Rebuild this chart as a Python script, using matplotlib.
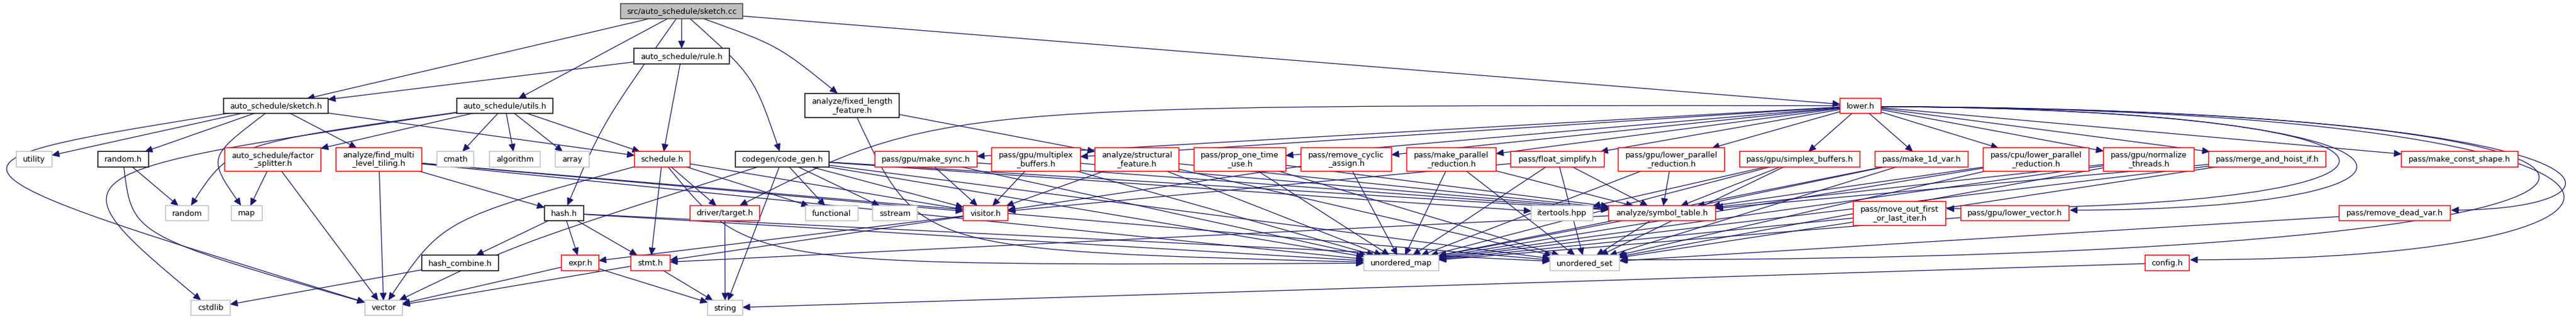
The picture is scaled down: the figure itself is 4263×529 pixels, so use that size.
import matplotlib
matplotlib.use("Agg")
import matplotlib.pyplot as plt
from matplotlib.patches import Rectangle, FancyArrowPatch, ArrowStyle
from matplotlib.path import Path

# include graph of src/auto_schedule/sketch.cc
labels = {
    "sketch_cc": "src/auto_schedule/sketch.cc",
    "rule_h": "auto_schedule/rule.h",
    "sketch_h": "auto_schedule/sketch.h",
    "utils_h": "auto_schedule/utils.h",
    "fixed_len": "analyze/fixed_length\n_feature.h",
    "lower_h": "lower.h",
    "utility": "utility",
    "random_h": "random.h",
    "factor": "auto_schedule/factor\n_splitter.h",
    "find_multi": "analyze/find_multi\n_level_tiling.h",
    "cmath": "cmath",
    "algorithm": "algorithm",
    "array": "array",
    "schedule_h": "schedule.h",
    "code_gen": "codegen/code_gen.h",
    "make_sync": "pass/gpu/make_sync.h",
    "multiplex": "pass/gpu/multiplex\n_buffers.h",
    "structural": "analyze/structural\n_feature.h",
    "prop_one": "pass/prop_one_time\n_use.h",
    "rm_cyclic": "pass/remove_cyclic\n_assign.h",
    "make_par": "pass/make_parallel\n_reduction.h",
    "float_simp": "pass/float_simplify.h",
    "gpu_lower_par": "pass/gpu/lower_parallel\n_reduction.h",
    "simplex": "pass/gpu/simplex_buffers.h",
    "make_1d": "pass/make_1d_var.h",
    "cpu_lower_par": "pass/cpu/lower_parallel\n_reduction.h",
    "normalize": "pass/gpu/normalize\n_threads.h",
    "merge_hoist": "pass/merge_and_hoist_if.h",
    "const_shape": "pass/make_const_shape.h",
    "random": "random",
    "map": "map",
    "hash_h": "hash.h",
    "target_h": "driver/target.h",
    "functional": "functional",
    "sstream": "sstream",
    "visitor_h": "visitor.h",
    "itertools": "itertools.hpp",
    "symbol_table": "analyze/symbol_table.h",
    "move_out": "pass/move_out_first\n_or_last_iter.h",
    "lower_vector": "pass/gpu/lower_vector.h",
    "rm_dead_var": "pass/remove_dead_var.h",
    "hash_combine": "hash_combine.h",
    "expr_h": "expr.h",
    "stmt_h": "stmt.h",
    "unordered_map": "unordered_map",
    "unordered_set": "unordered_set",
    "config_h": "config.h",
    "cstdlib": "cstdlib",
    "vector": "vector",
    "string": "string",
}

root_nodes = ["sketch_cc"]
plain_nodes = ["rule_h", "sketch_h", "utils_h", "fixed_len", "random_h", "code_gen",
               "hash_h", "hash_combine"]
system_nodes = ["utility", "cmath", "algorithm", "array", "random", "map", "functional",
                "sstream", "itertools", "unordered_map", "unordered_set", "cstdlib",
                "vector", "string"]
# every other node is a header whose own graph is truncated (red frame)

includes = {
    "sketch_cc": ["sketch_h", "utils_h", "rule_h", "hash_h", "code_gen", "fixed_len", "lower_h"],
    "rule_h": ["sketch_h", "schedule_h"],
    "sketch_h": ["utility", "random_h", "map", "find_multi", "vector", "schedule_h"],
    "utils_h": ["cstdlib", "random", "factor", "cmath", "algorithm", "array", "schedule_h"],
    "random_h": ["random", "vector"],
    "factor": ["map", "vector"],
    "find_multi": ["vector", "hash_h", "unordered_map", "unordered_set", "visitor_h"],
    "hash_h": ["hash_combine", "expr_h", "stmt_h", "unordered_map", "unordered_set"],
    "hash_combine": ["cstdlib"],
    "expr_h": ["vector", "string"],
    "stmt_h": ["vector", "string"],
    "schedule_h": ["stmt_h", "target_h", "functional", "vector", "unordered_map", "visitor_h"],
    "target_h": ["string"],
    "code_gen": ["vector", "string", "functional", "sstream", "visitor_h", "unordered_map",
                 "unordered_set", "symbol_table", "itertools"],
    "fixed_len": ["structural", "unordered_map"],
    "make_sync": ["visitor_h", "unordered_map", "symbol_table"],
    "multiplex": ["visitor_h", "unordered_map", "symbol_table"],
    "structural": ["visitor_h", "unordered_map", "unordered_set", "symbol_table"],
    "prop_one": ["symbol_table", "unordered_map", "unordered_set"],
    "rm_cyclic": ["unordered_map", "visitor_h"],
    "make_par": ["unordered_map", "unordered_set", "symbol_table"],
    "float_simp": ["unordered_map", "unordered_set", "symbol_table", "visitor_h"],
    "gpu_lower_par": ["symbol_table", "unordered_map"],
    "simplex": ["symbol_table", "unordered_map", "unordered_set", "itertools"],
    "make_1d": ["symbol_table", "unordered_map", "unordered_set"],
    "cpu_lower_par": ["symbol_table", "unordered_map", "unordered_set"],
    "normalize": ["symbol_table", "unordered_map", "unordered_set"],
    "merge_hoist": ["symbol_table", "unordered_map", "unordered_set"],
    "move_out": ["unordered_map"],
    "lower_vector": ["unordered_map"],
    "rm_dead_var": ["unordered_set"],
    "config_h": ["string"],
    "visitor_h": ["expr_h", "stmt_h"],
    "symbol_table": ["unordered_map", "unordered_set", "stmt_h"],
    "lower_h": ["make_sync", "multiplex", "prop_one", "rm_cyclic", "make_par", "float_simp",
                "gpu_lower_par", "simplex", "make_1d", "cpu_lower_par", "normalize",
                "merge_hoist", "const_shape", "target_h", "move_out", "lower_vector",
                "rm_dead_var", "config_h", "unordered_set"],
}

# ---- layout (pixel boxes: x0, x1, y0, y1) ----
R0, R2, R3, R3b, R4, R4b, R5, R6 = (6, 31), (163, 188), (251, 277), (245, 284), \
    (341, 366), (334, 374), (423, 449), (498, 523)
boxes = {
    "sketch_cc": (1027, 1229, *R0), "rule_h": (1049, 1207, 80, 106),
    "sketch_h": (370, 543, *R2), "utils_h": (756, 915, *R2),
    "fixed_len": (1332, 1488, 155, 195), "lower_h": (3045, 3113, *R2),
    "utility": (27, 86, *R3), "random_h": (162, 246, *R3), "factor": (372, 531, *R3b),
    "find_multi": (556, 698, *R3b), "cmath": (723, 784, *R3), "algorithm": (810, 894, *R3),
    "array": (919, 975, *R3), "schedule_h": (1050, 1142, *R3), "code_gen": (1217, 1372, *R3),
    "make_sync": (1448, 1617, *R3), "multiplex": (1641, 1788, *R3b),
    "structural": (1812, 1951, *R3b), "prop_one": (1976, 2128, *R3b),
    "rm_cyclic": (2153, 2303, *R3b), "make_par": (2328, 2476, *R3b),
    "float_simp": (2500, 2655, *R3), "gpu_lower_par": (2678, 2854, *R3b),
    "simplex": (2879, 3078, *R3), "make_1d": (3103, 3257, *R3),
    "cpu_lower_par": (3282, 3457, *R3b), "normalize": (3481, 3631, *R3b),
    "merge_hoist": (3655, 3849, *R3), "const_shape": (3974, 4167, *R3),
    "random": (274, 345, *R4), "map": (383, 434, *R4), "hash_h": (901, 966, *R4),
    "target_h": (1142, 1257, *R4), "functional": (1333, 1420, *R4),
    "sstream": (1444, 1518, *R4), "visitor_h": (1594, 1668, *R4),
    "itertools": (2534, 2636, *R4), "symbol_table": (2662, 2839, *R4),
    "move_out": (3067, 3220, *R4b), "lower_vector": (3245, 3424, *R4),
    "rm_dead_var": (3871, 4055, *R4),
    "hash_combine": (698, 825, *R5), "expr_h": (929, 991, *R5), "stmt_h": (1044, 1109, *R5),
    "unordered_map": (2257, 2381, *R5), "unordered_set": (2565, 2680, *R5),
    "config_h": (3550, 3623, *R5),
    "cstdlib": (316, 381, *R6), "vector": (604, 666, *R6), "string": (1171, 1229, *R6),
}

# routing: point the spline passes through halfway (dot-like curved edges)
via = {
    ("sketch_h", "vector"): (15, 290), ("utils_h", "cstdlib"): (195, 300),
    ("utils_h", "random"): (420, 245), ("sketch_h", "map"): (362, 262),
    ("random_h", "vector"): (265, 390), ("schedule_h", "vector"): (760, 370),
    ("code_gen", "vector"): (880, 400), ("sketch_cc", "hash_h"): (1005, 200),
    ("lower_h", "target_h"): (1700, 195), ("sketch_cc", "code_gen"): (1240, 130),
    ("sketch_cc", "fixed_len"): (1285, 80), ("fixed_len", "unordered_map"): (1600, 390),
    ("schedule_h", "unordered_map"): (1350, 420),
}
# edges that leave lower.h to the right and swing back (x of the swing)
loops = {
    ("lower_h", "move_out"): 4105, ("lower_h", "lower_vector"): 4103,
    ("lower_h", "rm_dead_var"): 4392, ("lower_h", "config_h"): 4520,
    ("lower_h", "unordered_set"): 4630,
}

EDGE = "#191970"
W, H = 4263, 529
fig = plt.figure(figsize=(W / 100, H / 100), dpi=100)
ax = fig.add_axes([0, 0, 1, 1])
ax.set_xlim(0, W)
ax.set_ylim(H, 0)
ax.axis("off")

patches = {}
for key, (x0, x1, y0, y1) in boxes.items():
    if key in root_nodes:
        fc, ec = "#bfbfbf", "#404040"
    elif key in plain_nodes:
        fc, ec = "white", "#000000"
    elif key in system_nodes:
        fc, ec = "white", "#bfbfbf"
    else:
        fc, ec = "white", "#ff0000"
    rect = Rectangle((x0, y0), x1 - x0, y1 - y0, facecolor=fc, edgecolor=ec,
                     linewidth=1.1, zorder=3)
    ax.add_patch(rect)
    patches[key] = rect
    ax.text((x0 + x1) / 2, (y0 + y1) / 2 + 0.5, labels[key], ha="center", va="center",
            fontsize=9.25, linespacing=1.1, multialignment="center", zorder=4)

style = ArrowStyle("-|>", head_length=0.55, head_width=0.25)


def centre(k):
    x0, x1, y0, y1 = boxes[k]
    return (x0 + x1) / 2, (y0 + y1) / 2


def exit_point(k, toward):
    # where the ray from the box centre toward a point leaves the box
    cx, cy = centre(k)
    x0, x1, y0, y1 = boxes[k]
    dx, dy = toward[0] - cx, toward[1] - cy
    t = min((x1 - x0) / 2 / abs(dx) if dx else 1e9, (y1 - y0) / 2 / abs(dy) if dy else 1e9)
    return cx + t * dx, cy + t * dy


def ctrl(p0, p3, v):
    # single control point (used twice) so the cubic passes v at t = 0.5
    return ((v[0] - 0.125 * (p0[0] + p3[0])) / 0.75,
            (v[1] - 0.125 * (p0[1] + p3[1])) / 0.75)


def curve(pts):
    return Path(pts, [Path.MOVETO, Path.CURVE4, Path.CURVE4, Path.CURVE4])


for src, targets in includes.items():
    for dst in targets:
        kw = dict(arrowstyle=style, mutation_scale=14, color=EDGE, lw=0.95, zorder=2)
        if (src, dst) in loops:
            xt = loops[(src, dst)]
            sx0, sx1, sy0, sy1 = boxes[src]
            dx0, dx1, dy0, dy1 = boxes[dst]
            p0 = (sx1, sy0 + 0.55 * (sy1 - sy0))
            p3 = (dx1 + 1, dy0 + 0.3 * (dy1 - dy0))
            arr = FancyArrowPatch(path=curve([p0, (xt, p0[1] + 5), (xt, p3[1]), p3]), **kw)
        elif (src, dst) in via:
            v = via[(src, dst)]
            c = ctrl(centre(src), centre(dst), v)
            p0, p3 = exit_point(src, c), exit_point(dst, c)
            c = ctrl(p0, p3, v)
            arr = FancyArrowPatch(path=curve([p0, c, c, p3]), **kw)
        else:
            arr = FancyArrowPatch(centre(src), centre(dst), patchA=patches[src],
                                  patchB=patches[dst], shrinkA=0, shrinkB=0, **kw)
        ax.add_patch(arr)

fig.savefig("out.png", dpi=100)
